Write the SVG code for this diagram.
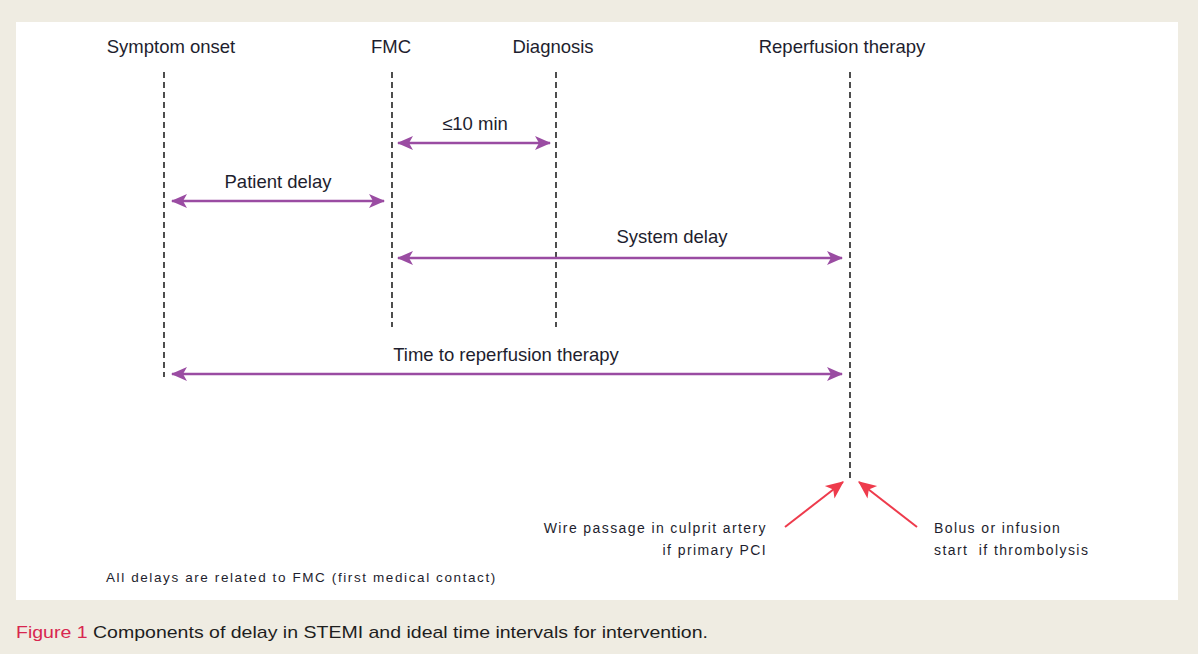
<svg xmlns="http://www.w3.org/2000/svg" width="1198" height="654" viewBox="0 0 1198 654">
<style>
.bg{fill:#efece2}
.panel{fill:#ffffff}
.vline{stroke:#222;stroke-width:1.6;stroke-dasharray:6,4;fill:none}
.span{stroke:#9a4ca2;stroke-width:2.5;fill:none;marker-start:url(#ps);marker-end:url(#pe)}
.red{stroke:#ee3b4c;stroke-width:2;fill:none;marker-end:url(#re)}
.lbl{font-family:"Liberation Sans",Arial,sans-serif;font-size:18.5px;fill:#1e1e2e}
.sm{font-family:"Liberation Sans",Arial,sans-serif;font-size:14px;fill:#1e1e2e;letter-spacing:1.4px}
.cap{font-family:"Liberation Sans",Arial,sans-serif;font-size:17px;fill:#1e1e1e}
</style>
<defs>
<marker id="pe" viewBox="0 0 16 16" refX="15" refY="8" markerWidth="16" markerHeight="16" markerUnits="userSpaceOnUse" orient="auto"><path d="M0,1 L16,8 L0,15 L4,8 Z" fill="#9a4ca2"/></marker>
<marker id="ps" viewBox="0 0 16 16" refX="1" refY="8" markerWidth="16" markerHeight="16" markerUnits="userSpaceOnUse" orient="auto"><path d="M16,1 L0,8 L16,15 L12,8 Z" fill="#9a4ca2"/></marker>
<marker id="re" viewBox="0 0 16 16" refX="15" refY="8" markerWidth="18" markerHeight="18" markerUnits="userSpaceOnUse" orient="auto"><path d="M0,1 L16,8 L0,15 L4,8 Z" fill="#ee3b4c"/></marker>
</defs>
<rect class="bg" x="0" y="0" width="1198" height="654"/>
<rect class="panel" x="16" y="22" width="1162" height="578"/>
<g id="symptom-onset">
<text class="lbl" x="171" y="53" text-anchor="middle">Symptom onset</text>
<line class="vline" x1="164" y1="72" x2="164" y2="377"/>
</g>
<g id="fmc">
<text class="lbl" x="391" y="53" text-anchor="middle">FMC</text>
<line class="vline" x1="392" y1="72" x2="392" y2="327"/>
</g>
<g id="diagnosis">
<text class="lbl" x="553" y="53" text-anchor="middle">Diagnosis</text>
<line class="vline" x1="556" y1="72" x2="556" y2="327"/>
</g>
<g id="reperfusion">
<text class="lbl" x="842" y="53" text-anchor="middle">Reperfusion therapy</text>
<line class="vline" x1="850" y1="72" x2="850" y2="480"/>
</g>
<g id="connectors">
<line class="span" x1="398" y1="143" x2="550" y2="143"/>
<line class="span" x1="172" y1="201" x2="384" y2="201"/>
<line class="span" x1="398" y1="258" x2="842" y2="258"/>
<line class="span" x1="172" y1="374" x2="842" y2="374"/>
<line class="red" x1="785" y1="527" x2="843" y2="482"/>
<line class="red" x1="917" y1="527" x2="859" y2="482"/>
</g>
<g id="labels">
<text class="lbl" x="475" y="130" text-anchor="middle">≤10 min</text>
<text class="lbl" x="278" y="188" text-anchor="middle">Patient delay</text>
<text class="lbl" x="672" y="243" text-anchor="middle">System delay</text>
<text class="lbl" x="506" y="361" text-anchor="middle">Time to reperfusion therapy</text>
</g>
<g id="pci-note">
<text class="sm" x="767" y="533" text-anchor="end">Wire passage in culprit artery</text>
<text class="sm" x="767" y="555" text-anchor="end">if primary PCI</text>
</g>
<g id="lysis-note">
<text class="sm" x="934" y="533">Bolus or infusion</text>
<text class="sm" x="934" y="555" xml:space="preserve">start  if thrombolysis</text>
</g>
<g id="footnote">
<text class="sm" x="106" y="582" style="letter-spacing:1.6px;font-size:13.5px">All delays are related to FMC (first medical contact)</text>
</g>
<g id="caption">
<text class="cap" x="16" y="638" textLength="692" lengthAdjust="spacingAndGlyphs"><tspan fill="#d8264f">Figure 1</tspan> Components of delay in STEMI and ideal time intervals for intervention.</text>
</g>
</svg>
